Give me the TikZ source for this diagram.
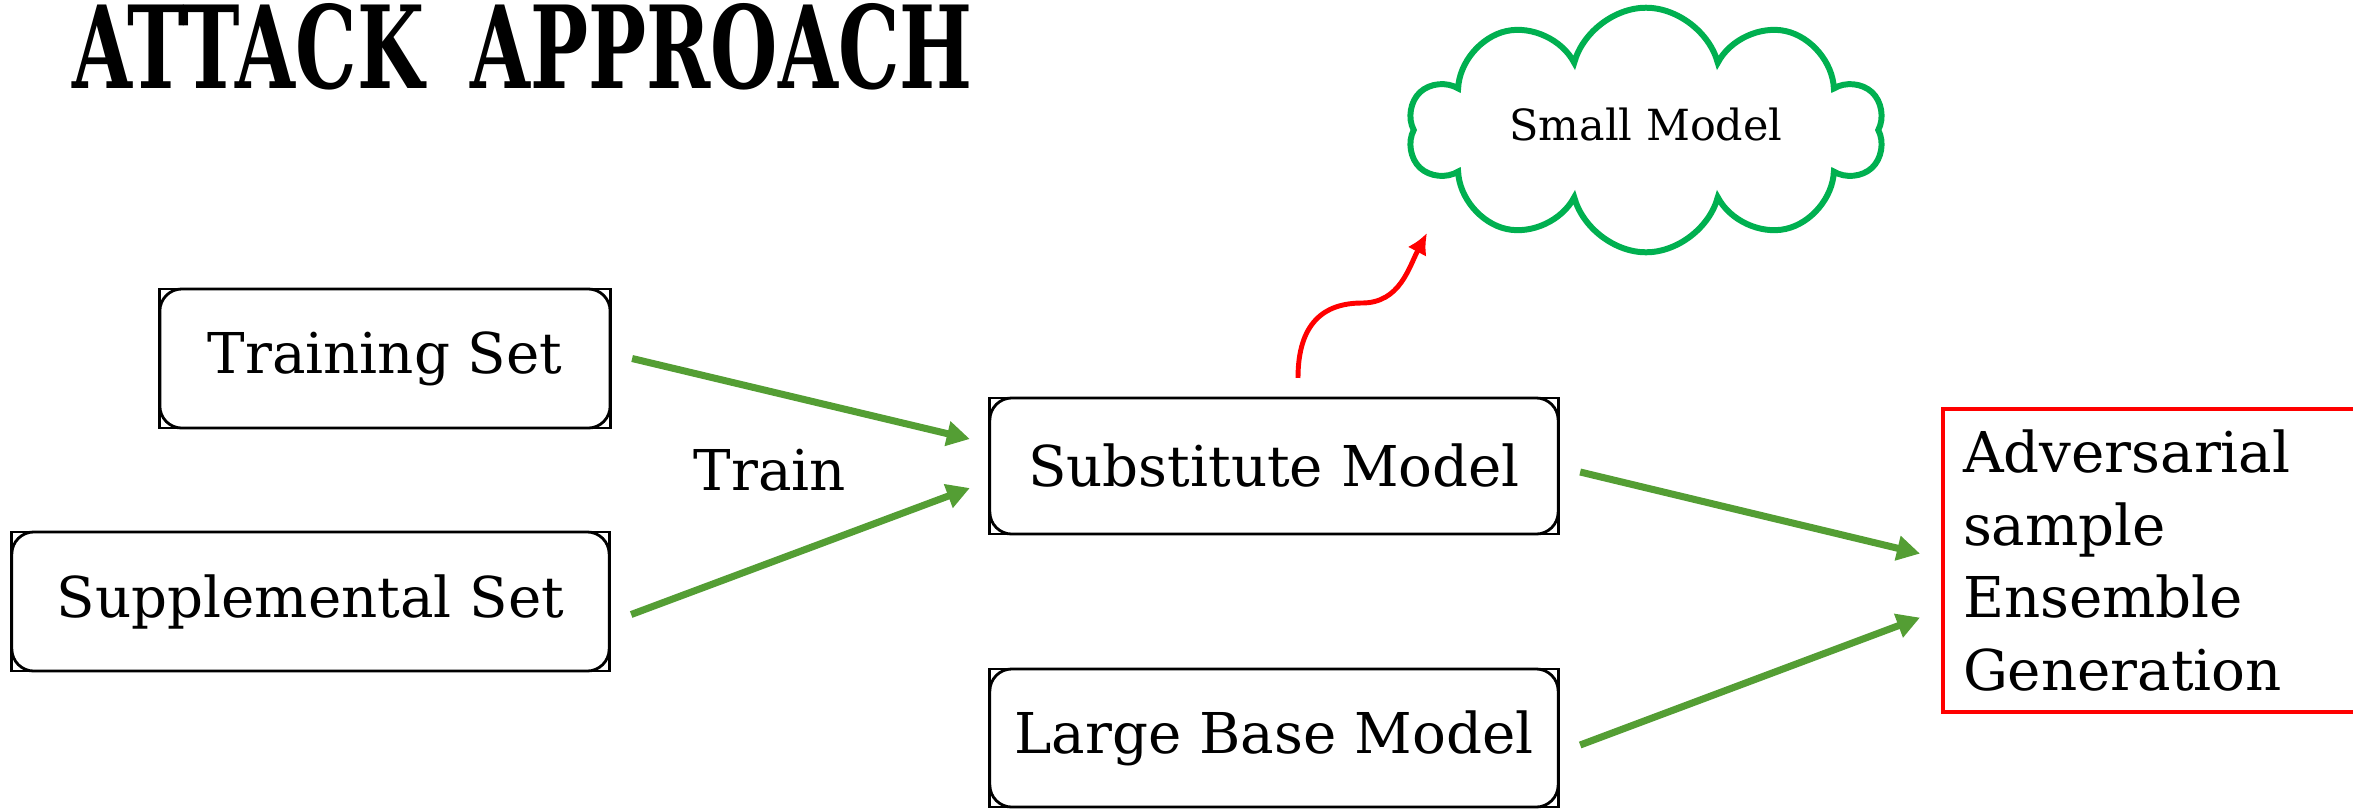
\documentclass[tikz,border=0pt]{standalone}
\usepackage{fontspec}
\setmainfont{DejaVu Serif}
\newfontfamily\titlefont{DejaVu Serif}
\usepackage{tikz}
\usetikzlibrary{arrows.meta,shapes.symbols,calc}
\definecolor{ArrowGreen}{RGB}{84,158,52}
\definecolor{CloudGreen}{RGB}{0,176,80}

\begin{document}
\begin{tikzpicture}[x=0.01cm, y=-0.01cm, font=\fontsize{16}{20.7}\selectfont,
      every node/.append style={inner sep=0pt, outer sep=0pt},
      flow/.style={-{Triangle[length=2.3mm,width=2.4mm]}, color=ArrowGreen, line width=2pt},
      spark/.style={-{Latex[length=2.1mm,width=2.1mm]}, color=red, line width=1.4pt}]
	  \tikzstyle{stage} = [draw, rounded corners=2.2mm, line width=0.8pt]
	  \useasboundingbox (0,0) rectangle (2353,808);
	  \clip (0,0) rectangle (2353,808);
	  % title
	  \node (title) [anchor=base west] at (72,88)
	    {\resizebox{9cm}{0.85cm}{\titlefont\bfseries ATTACK\hspace{0.6em}APPROACH}};
	  % inputs and models
	  \node (train) [stage, minimum width=4.5cm, minimum height=1.39cm] at (385,358.5) {Training Set};
	  \node (supp) [stage, minimum width=5.97cm, minimum height=1.39cm] at (310.5,601.5) {Supplemental Set};
	  \node (subst) [stage, minimum width=5.68cm, minimum height=1.36cm] at (1274,466) {Substitute Model};
	  \node (large) [stage, minimum width=5.68cm, minimum height=1.38cm] at (1274,738) {Large Base Model};
	  \node (trainlbl) at (770,470) {Train};
	  \foreach \n in {train,supp,subst,large}
	    \draw[line width=0.8pt] (\n.south west) rectangle (\n.north east);
	  % output
	  \node (adv) [draw=red, line width=1.1pt, anchor=north west, minimum width=4.3cm, minimum height=3.03cm,
	    text width=3.9cm, align=left, inner xsep=0.2cm] at (1943,409)
	    {Adversarial\\ sample\\ Ensemble\\ Generation};
	  \node (cloud) [cloud, cloud puffs=10, aspect=2.4, draw=CloudGreen, line width=1.7pt,
	    minimum width=4.75cm, minimum height=2.0cm] at (1646,130)
	    {\raisebox{0.12cm}{\fontsize{12.2}{15}\selectfont Small Model}};
	  % connectors
	  \draw[flow] ($(train.east)+(22,0)$) -- ($(subst.west)+(-20,-27)$);
	  \draw[flow] ($(supp.east)+(22,13)$) -- ($(subst.west)+(-20,22)$);
	  \draw[flow] ($(subst.east)+(22,6)$) -- ($(adv.west)+(-23,-7)$);
	  \draw[flow] ($(large.east)+(22,7)$) -- ($(adv.west)+(-23,57)$);
	  \coordinate (bend) at (1362,303);
	  \draw[spark] ($(subst.north)+(24,-20)$) .. controls +(0,-55) and +(-38,0) .. (bend)
	    .. controls +(38,0) and +(-18,34) .. ($(cloud.center)+(-219,103)$);
\end{tikzpicture}
\end{document}
